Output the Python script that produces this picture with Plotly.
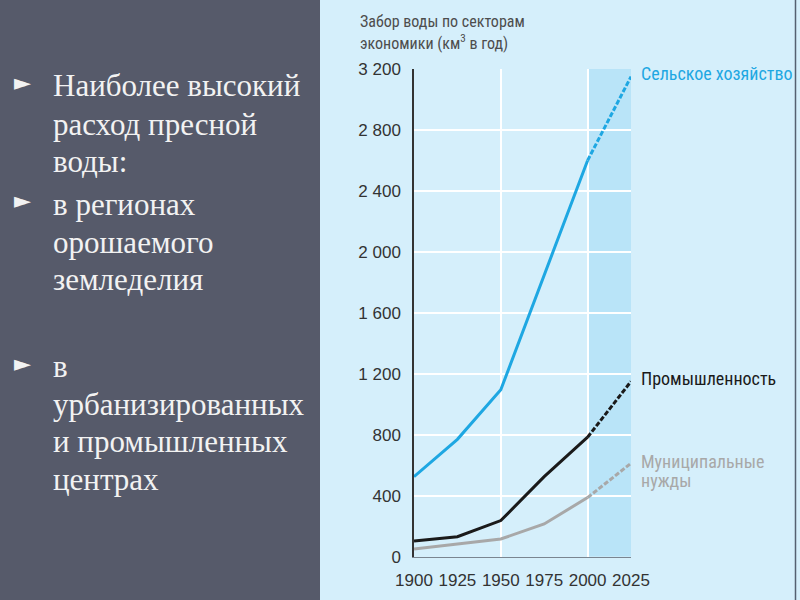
import plotly.graph_objects as go

years = [1900, 1925, 1950, 1975, 2000, 2025]
agriculture = [525, 770, 1095, 1850, 2600, 3150]
industry = [103, 131, 237, 525, 784, 1150]
municipal = [50, 81, 116, 215, 388, 613]

y_ticks = [0, 400, 800, 1200, 1600, 2000, 2400, 2800, 3200]
y_tick_labels = ["0", "400", "800", "1 200", "1 600", "2 000", "2 400", "2 800", "3 200"]
x_tick_labels = ["1900", "1925", "1950", "1975", "2000", "2025"]

series = [
    ("Сельское хозяйство", agriculture, "#1ea7e2"),
    ("Промышленность", industry, "#1a1a1a"),
    ("Муниципальные нужды", municipal, "#a8a8a8"),
]

bullet_lines = [
    ("Наиболее высокий", 86, True),
    ("расход пресной", 124, False),
    ("воды:", 161, False),
    ("в регионах", 204, True),
    ("орошаемого", 242, False),
    ("земледелия", 279, False),
    ("в", 366, True),
    ("урбанизированных", 404, False),
    ("и промышленных", 441, False),
    ("центрах", 479, False),
]

W, H = 800, 600
def px(x): return x / W
def py(y): return 1 - y / H

COND = "Roboto Condensed, Liberation Sans Narrow, Arial Narrow, sans-serif"
SANS = "Liberation Sans, Arial, sans-serif"

fig = go.Figure()
for name, vals, color in series:
    fig.add_trace(go.Scatter(x=years[:5], y=vals[:5], mode="lines",
                             line=dict(color=color, width=3), name=name,
                             showlegend=False, hoverinfo="skip"))
    fig.add_trace(go.Scatter(x=years[4:], y=vals[4:], mode="lines",
                             line=dict(color=color, width=3, dash="5px,2px"),
                             name=name, showlegend=False, hoverinfo="skip"))

shapes = [
    dict(type="rect", xref="paper", yref="paper", x0=px(320), x1=1, y0=0, y1=1,
         fillcolor="#d5effb", line=dict(width=0), layer="below"),
    dict(type="line", xref="paper", yref="paper", x0=px(795.5), x1=px(795.5), y0=0, y1=1,
         line=dict(color="#556070", width=1.5), layer="below"),
    dict(type="rect", xref="x", yref="y", x0=2000, x1=2025, y0=0, y1=3200,
         fillcolor="#b9e4f8", line=dict(width=0), layer="below"),
]

annotations = []
annotations.append(dict(xref="paper", yref="paper", x=px(358), y=py(22), xanchor="left", yanchor="middle",
                        text="Забор воды по секторам", showarrow=False,
                        font=dict(family=COND, size=16, color="#4d4d4d")))
annotations.append(dict(xref="paper", yref="paper", x=px(358), y=py(42), xanchor="left", yanchor="middle",
                        text="экономики (км<sup>3</sup> в год)", showarrow=False,
                        font=dict(family=COND, size=16, color="#4d4d4d")))

label_pos = {"Сельское хозяйство": [(73, "Сельское хозяйство")],
             "Промышленность": [(378, "Промышленность")],
             "Муниципальные нужды": [(461, "Муниципальные"), (480, "нужды")]}
for name, vals, color in series:
    for yy, txt in label_pos[name]:
        annotations.append(dict(xref="paper", yref="paper", x=px(639), y=py(yy), xanchor="left",
                                yanchor="middle", text=txt, showarrow=False,
                                font=dict(family=COND, size=18, color=color)))

for txt, yy, bullet in bullet_lines:
    annotations.append(dict(xref="paper", yref="paper", x=px(51), y=py(yy), xanchor="left",
                            yanchor="middle", text=txt, showarrow=False,
                            font=dict(family="Liberation Serif, Times New Roman, serif", size=31,
                                      color="#f2f2f2")))
    if bullet:
        annotations.append(dict(xref="paper", yref="paper", x=px(12), y=py(yy - 3), xanchor="left",
                                yanchor="middle", text="►", showarrow=False,
                                font=dict(family="DejaVu Sans, sans-serif", size=22, color="#f2f2f2")))

fig.update_layout(
    width=W, height=H,
    autosize=False,
    margin=dict(l=0, r=0, t=0, b=0, pad=0, autoexpand=False),
    paper_bgcolor="#565a6a",
    plot_bgcolor="rgba(0,0,0,0)",
    showlegend=False,
    shapes=shapes,
    annotations=annotations,
    xaxis=dict(domain=[px(414), px(631)], range=[1900, 2025], tickvals=years,
               ticktext=x_tick_labels, showgrid=False, zeroline=False, showline=True,
               linecolor="#7a8590", linewidth=1,
               ticks="", ticklabelstandoff=8, automargin=False,
               tickfont=dict(family=SANS, size=17, color="#333333"),
               minor=dict(tickvals=[1950, 2000], showgrid=True, gridcolor="#ffffff",
                          gridwidth=2, ticks="")),
    yaxis=dict(domain=[py(556.7), py(69)], range=[0, 3200], tickvals=y_ticks,
               ticktext=y_tick_labels, showgrid=False, zeroline=False, showline=True,
               linecolor="#333333", linewidth=1.5, ticks="", ticklabelstandoff=8,
               automargin=False,
               tickfont=dict(family=SANS, size=17, color="#333333"),
               minor=dict(tickvals=y_ticks[1:], showgrid=True, gridcolor="#ffffff",
                          gridwidth=2, ticks="")),
)

fig.write_html("out.html", config={"displayModeBar": False},
               post_script="document.body.style.margin='0';document.body.style.overflow='hidden';")
